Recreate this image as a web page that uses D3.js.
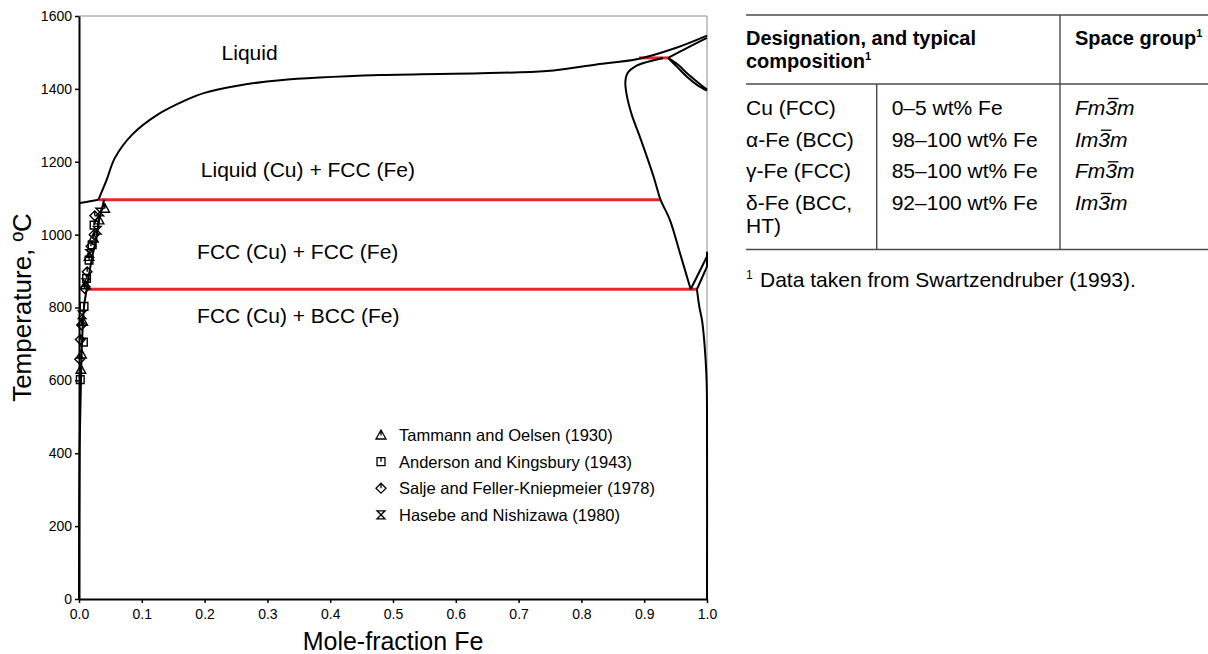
<!DOCTYPE html>
<html><head><meta charset="utf-8">
<script src="https://cdn.jsdelivr.net/npm/d3@7"></script>
<style>
html,body{margin:0;padding:0;background:#fff;}
svg{display:block;font-family:"Liberation Sans",Arial,sans-serif;}
</style></head>
<body>
<svg id="c" width="1208" height="654"></svg>
<script>
// ---------- data ----------
const xTicks = [0,0.1,0.2,0.3,0.4,0.5,0.6,0.7,0.8,0.9,1.0];
const yTicks = [0,200,400,600,800,1000,1200,1400,1600];

// phase boundary curves [moleFractionFe, T]
const liquidusCu = [[0,1086],[0.031,1096]];
const liquidus = [[0.031,1096],[0.044,1150],[0.057,1210],[0.085,1275],[0.124,1328],[0.17,1369],[0.2,1389],[0.25,1408],[0.32,1424],[0.48,1438],[0.64,1443],[0.745,1449],[0.824,1467],[0.89,1482],[0.95,1512],[1,1546]];
const solvusCu = [[0.040,1096],[0.036,1068],[0.033,1049],[0.028,994],[0.020,930],[0.012,848],[0.008,802],[0.0045,690],[0.0027,560],[0.001,420],[0.0003,250],[0,0]];
const solvusGamma = [[0.930,1485],[0.905,1474],[0.886,1462],[0.874,1445],[0.870,1420],[0.872,1385],[0.880,1330],[0.893,1269],[0.915,1159],[0.926,1096],[0.941,1040],[0.957,949],[0.974,850]];
const solvusAlpha = [[0.984,850],[0.988,800],[0.992,766],[0.995,720],[0.998,650],[0.9995,593],[1,520],[1,0]];
const gammaAlphaUpper = [[0.974,850],[1,940]];
const alphaGammaUpper = [[0.984,850],[1,912]];
const feEdge = [[1,912],[1,953]];
const deltaSolidus = [[0.938,1485],[0.97,1514],[1,1540]];
const deltaGammaA = [[0.938,1485],[0.952,1461],[0.968,1433],[0.984,1411],[1,1395]];
const deltaGammaB = [[0.938,1485],[0.954,1466],[0.970,1440],[0.986,1417],[1,1398]];

// invariant (red) lines
const invariants = [
  {T:1096, x0:0.031, x1:0.926},
  {T:850,  x0:0.014, x1:0.984},
  {T:1485, x0:0.892, x1:0.938}
];

// experimental points
const tammann  = [[0.003,630],[0.004,672],[0.006,762],[0.010,862],[0.016,940],[0.023,990],[0.032,1040],[0.041,1072]];
const anderson = [[0.002,602],[0.007,705],[0.008,803],[0.012,880],[0.016,930],[0.021,972],[0.024,1026]];
const salje    = [[0.001,658],[0.002,712],[0.004,752],[0.009,852],[0.013,898],[0.019,968],[0.024,1000],[0.025,1052]];
const hasebe   = [[0.005,780],[0.011,868],[0.017,948],[0.029,1012],[0.033,1062]];

const seriesNames = ["Tammann and Oelsen (1930)","Anderson and Kingsbury (1943)","Salje and Feller-Kniepmeier (1978)","Hasebe and Nishizawa (1980)"];
const seriesShapes = ["tri","sq","dia","hour"];

const regionLabels = [
  {text:"Liquid", x:0.227, T:1480},
  {text:"Liquid (Cu) + FCC (Fe)", x:0.194, T:1158},
  {text:"FCC (Cu) + FCC (Fe)", x:0.188, T:934},
  {text:"FCC (Cu) + BCC (Fe)", x:0.188, T:758}
];

// table
const tableHeader1 = ["Designation, and typical","composition"];
const tableHeader3 = "Space group";
const colDesignation = ["Cu (FCC)","α-Fe (BCC)","γ-Fe (FCC)","δ-Fe (BCC,"];
const colComposition = ["0–5 wt% Fe","98–100 wt% Fe","85–100 wt% Fe","92–100 wt% Fe"];
const colSpaceGroup = ["Fm3m","Im3m","Fm3m","Im3m"];
const footnote = "Data taken from Swartzendruber (1993).";

// ---------- drawing ----------
const svg = d3.select("#c");
const L=79, R=707, T=16, B=599;
const x = d3.scaleLinear().domain([0,1]).range([L,R]);
const y = d3.scaleLinear().domain([0,1600]).range([B,T]);

// frame top/right
svg.append("path").attr("d",`M${L},${T}H${R}V${B}`).attr("fill","none").attr("stroke","#8c8c8c").attr("stroke-width",1);

const line = d3.line().x(d=>x(d[0])).y(d=>y(d[1])).curve(d3.curveCatmullRom.alpha(0.5));
const straight = d3.line().x(d=>x(d[0])).y(d=>y(d[1]));

// red invariant lines
svg.selectAll(".inv").data(invariants).enter().append("line")
  .attr("x1",d=>x(d.x0)).attr("x2",d=>x(d.x1)).attr("y1",d=>y(d.T)).attr("y2",d=>y(d.T))
  .attr("stroke","#e3272b").attr("stroke-width",3);

const curves = [liquidus, solvusCu, solvusGamma, solvusAlpha, deltaSolidus, deltaGammaA, deltaGammaB];
svg.selectAll(".crv").data(curves).enter().append("path")
  .attr("d",line).attr("fill","none").attr("stroke","#000").attr("stroke-width",2);
const segs = [liquidusCu, gammaAlphaUpper, alphaGammaUpper, feEdge];
svg.selectAll(".seg").data(segs).enter().append("path")
  .attr("d",straight).attr("fill","none").attr("stroke","#000").attr("stroke-width",2);

// marker shapes
function shapePath(kind,h){
  switch(kind){
    case "tri": return `M0,${-h}L${h},${h*0.8}L${-h},${h*0.8}ZM0,${-h}V${h*0.1}`;
    case "sq": return `M${-h*0.8},${-h*0.8}H${h*0.8}V${h*0.8}H${-h*0.8}ZM0,${-h*0.8}V${h*0.05}`;
    case "dia": return `M0,${-h}L${h},0L0,${h}L${-h},0ZM0,${-h}V0`;
    case "hour": return `M${-h*0.8},${-h*0.8}H${h*0.8}L${-h*0.8},${h*0.8}H${h*0.8}Z`;
  }
}
const allSeries = [tammann, anderson, salje, hasebe];
allSeries.forEach((s,i)=>{
  svg.append("g").selectAll("path").data(s).enter().append("path")
    .attr("transform",d=>`translate(${x(d[0])},${y(d[1])})`)
    .attr("d",shapePath(seriesShapes[i],4.8))
    .attr("fill","none").attr("stroke","#000").attr("stroke-width",1.4);
});

// axes
const xAxis = d3.axisBottom(x).tickValues(xTicks).tickFormat(d3.format(".1f")).tickSize(4).tickSizeOuter(0);
const yAxis = d3.axisLeft(y).tickValues(yTicks).tickFormat(d3.format("d")).tickSize(4).tickSizeOuter(0);
const gx = svg.append("g").attr("transform",`translate(0,${B})`).call(xAxis);
const gy = svg.append("g").attr("transform",`translate(${L},0)`).call(yAxis);
[gx,gy].forEach(g=>{
  g.select(".domain").attr("stroke","#000").attr("stroke-width",2);
  g.selectAll(".tick line").attr("stroke","#000").attr("stroke-width",1.5);
  g.selectAll(".tick text").attr("fill","#000").style("font-size","14px").style("font-family","'Liberation Sans',Arial,sans-serif");
});
gx.selectAll(".tick text").attr("dy","0.71em").attr("y",10);
gy.selectAll(".tick text").attr("x",-7);

// axis titles
svg.append("text").attr("x",(L+R)/2).attr("y",650).attr("text-anchor","middle")
  .style("font-size","25px").text("Mole-fraction Fe");
svg.append("text").attr("transform",`translate(31,${(T+B)/2}) rotate(-90)`).attr("text-anchor","middle")
  .style("font-size","26px").text("Temperature, ºC");

// region labels
svg.selectAll(".rl").data(regionLabels).enter().append("text")
  .attr("x",d=>x(d.x)).attr("y",d=>y(d.T)).style("font-size","21px").text(d=>d.text);

// legend
const lg = svg.append("g");
seriesNames.forEach((n,i)=>{
  const cy = 435 + i*26.6;
  lg.append("path").attr("transform",`translate(381,${cy})`).attr("d",shapePath(seriesShapes[i],5))
    .attr("fill","none").attr("stroke","#000").attr("stroke-width",1.3);
  lg.append("text").attr("x",399).attr("y",cy+6).style("font-size","16.5px").text(n);
});

// table
const tg = svg.append("g").attr("fill","#000");
const rule = (x1,y1,x2,y2)=>tg.append("line").attr("x1",x1).attr("y1",y1).attr("x2",x2).attr("y2",y2)
  .attr("stroke","#4a4a4a").attr("stroke-width",1.4);
rule(746,15,1208,15); rule(746,84,1208,84); rule(746,249.5,1208,249.5);
rule(1060,15,1060,249.5); rule(876.7,84,876.7,249.5);

tg.append("text").attr("x",746).attr("y",45).style("font-size","20px").style("font-weight","bold").text(tableHeader1[0]);
const h2 = tg.append("text").attr("x",746).attr("y",68).style("font-size","20px").style("font-weight","bold");
h2.append("tspan").text(tableHeader1[1]);
h2.append("tspan").attr("dy",-8).style("font-size","11px").text("1");
const h3 = tg.append("text").attr("x",1075).attr("y",45).style("font-size","20px").style("font-weight","bold");
h3.append("tspan").text(tableHeader3);
h3.append("tspan").attr("dy",-8).style("font-size","11px").text("1");

const rowY = [115,146.7,178.3,210];
colDesignation.forEach((t,i)=>tg.append("text").attr("x",746).attr("y",rowY[i]).style("font-size","21px").text(t));
tg.append("text").attr("x",746).attr("y",233.3).style("font-size","21px").text("HT)");
colComposition.forEach((t,i)=>tg.append("text").attr("x",891.7).attr("y",rowY[i]).style("font-size","21px").text(t));
colSpaceGroup.forEach((p,i)=>{
  const t = tg.append("text").attr("x",1075).attr("y",rowY[i]).style("font-size","21px").style("font-style","italic").text(p);
  const node = t.node();
  const s = node.getStartPositionOfChar(2), e = node.getEndPositionOfChar(2);
  tg.append("line").attr("x1",s.x+2.5).attr("x2",e.x+1.5).attr("y1",rowY[i]-16.5).attr("y2",rowY[i]-16.5)
    .attr("stroke","#000").attr("stroke-width",1.3);
});
const fn = tg.append("text").attr("x",746).attr("y",287).style("font-size","21px");
fn.append("tspan").attr("dy",-8).style("font-size","12px").text("1");
fn.append("tspan").attr("x",760).attr("dy",8).text(footnote);
</script>
</body></html>
